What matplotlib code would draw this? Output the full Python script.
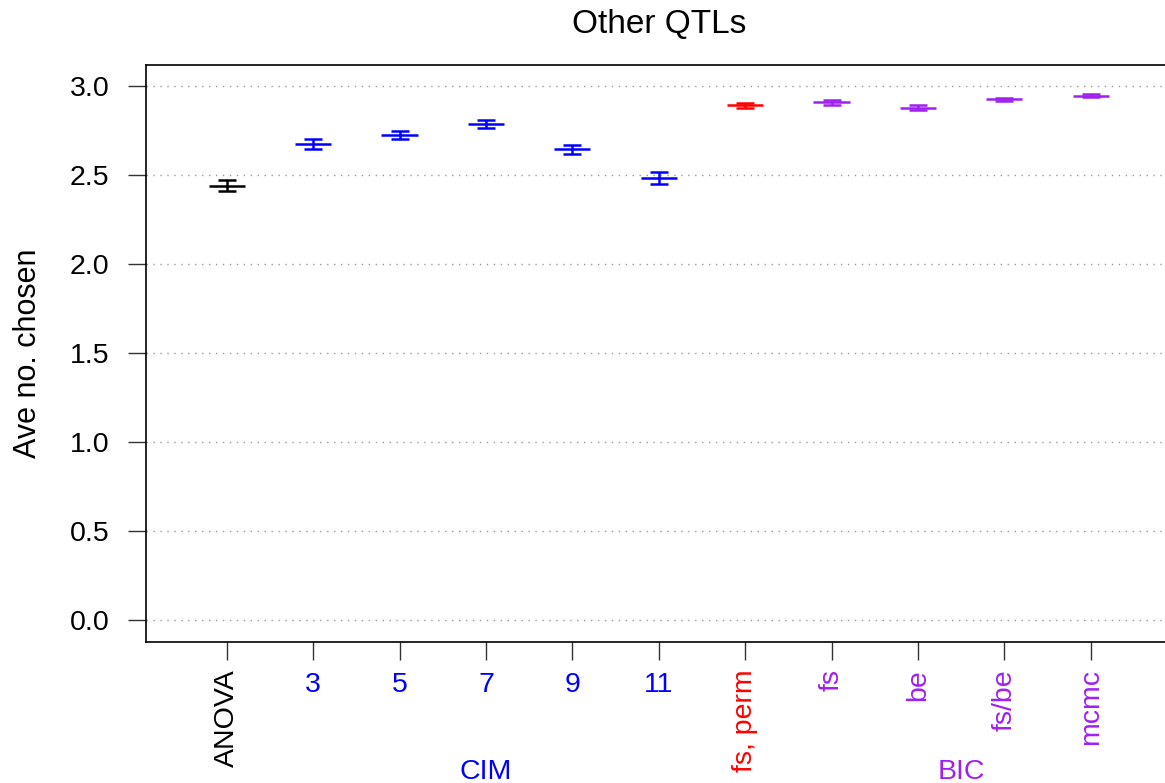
import matplotlib
matplotlib.use("Agg")
import matplotlib.pyplot as plt
import matplotlib.transforms as mtransforms

plt.rcParams['font.family'] = ['Liberation Sans', 'DejaVu Sans']

# data
methods = ["ANOVA", "3", "5", "7", "9", "11", "fs, perm", "fs", "be", "fs/be", "mcmc"]
means = [2.442, 2.676, 2.727, 2.789, 2.646, 2.485, 2.893, 2.910, 2.880, 2.927, 2.948]
ses = [0.030, 0.026, 0.024, 0.021, 0.026, 0.031, 0.012, 0.012, 0.013, 0.010, 0.009]
colors = ["black", "blue", "blue", "blue", "blue", "blue", "red",
          "#A020F0", "#A020F0", "#A020F0", "#A020F0"]
rotated = [True, False, False, False, False, False, True, True, True, True, True]
groups = [("CIM", 4, "blue"), ("BIC", 9.5, "#A020F0")]
yticks = [0.0, 0.5, 1.0, 1.5, 2.0, 2.5, 3.0]

fs_tick = 20.5

fig = plt.figure(figsize=(11.65, 7.83), dpi=100)
ax = fig.add_axes([0.1251, 0.1805, 0.8807, 0.7365])

xs = list(range(1, len(methods) + 1))

for y in yticks:
    ax.axhline(y, color="#999999", linestyle=(0, (1, 4)), linewidth=1, zorder=0)

for x, m, s, c in zip(xs, means, ses, colors):
    ax.errorbar(x, m, yerr=s, fmt="none", ecolor=c, elinewidth=1.8,
                capsize=6.8, capthick=1.8)
    ax.hlines(m, x - 0.21, x + 0.21, color=c, linewidth=1.8)

ax.set_xlim(0.0625, 11.9375)
ax.set_ylim(-0.12, 3.12)
ax.set_yticks(yticks)
ax.set_yticklabels([f"{v:.1f}" for v in yticks])
ax.set_xticks(xs)
ax.set_xticklabels([])
ax.tick_params(axis="both", length=13, width=1, color="#333333", labelsize=fs_tick)
ax.tick_params(axis="y", pad=13)
for side in ["top", "bottom", "left", "right"]:
    ax.spines[side].set_linewidth(1.2)

trans = mtransforms.blended_transform_factory(ax.transData, fig.transFigure)
for x, lab, c, rot in zip(xs, methods, colors, rotated):
    if rot:
        ax.text(x, 1 - 669 / 783, lab, transform=trans, rotation=90, ha="center",
                va="top", color=c, fontsize=fs_tick, clip_on=False)
    else:
        ax.text(x, 1 - 692 / 783, lab, transform=trans, ha="center", va="baseline",
                color=c, fontsize=fs_tick, clip_on=False)

for name, gx, gc in groups:
    ax.text(gx, 1 - 779 / 783, name, transform=trans, ha="center", va="baseline",
            color=gc, fontsize=fs_tick, clip_on=False)

fig.text(28 / 1165, 0.549, "Ave no. chosen", rotation=90, ha="center",
         va="center", fontsize=22)
fig.text(658.7 / 1165, 1 - 33 / 783, "Other QTLs", ha="center", va="baseline",
         fontsize=24)

fig.savefig("out.png", dpi=100)
